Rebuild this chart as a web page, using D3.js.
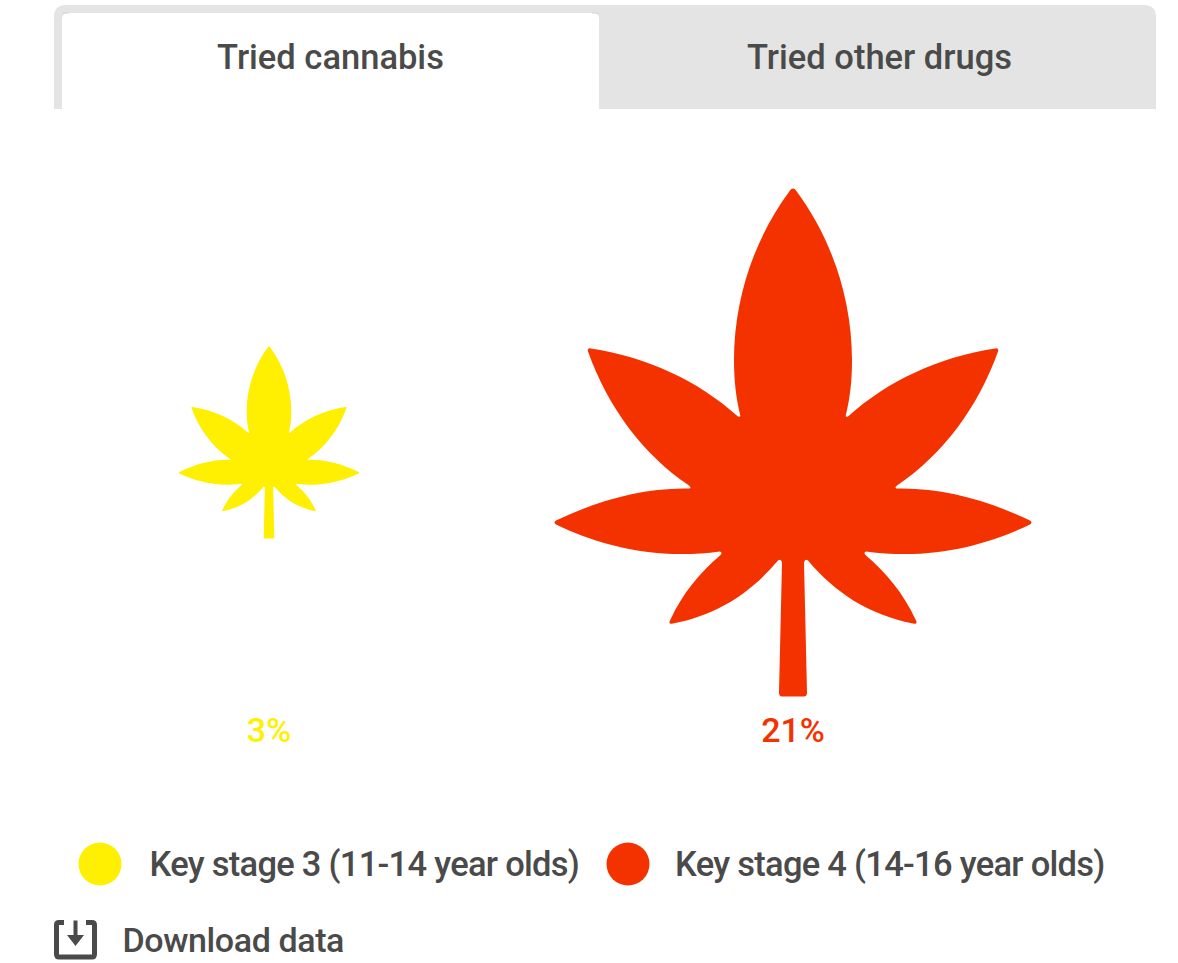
<!DOCTYPE html>
<html>
<head>
<meta charset="utf-8">
<title>Tried cannabis</title>
<script src="https://cdn.jsdelivr.net/npm/d3@7"></script>
<style>
  html, body { margin: 0; padding: 0; background: #fff; }
  svg { display: block; font-family: Roboto, sans-serif; }
</style>
</head>
<body>
<div id="chart"></div>
<script>
const tabLabels = ["Tried cannabis", "Tried other drugs"];
const stages = ["Key stage 3 (11-14 year olds)", "Key stage 4 (14-16 year olds)"];
const triedCannabis = [3, 21];
const stageColors = ["#FFEF00", "#F43200"];
const downloadLabel = "Download data";

const textColor = "#4a4a4a";
const tabGrey = "#e4e4e4";

// Leaf outline centred on its origin, 508 units tall.
const leafHeight = 508;
const leafPath =
  "M0,-254 Q2,-254 3,-252 C38,-205 59,-145 59,-82 C59,-62 57,-45 53,-28 Q52,-25 55,-26 " +
  "C95,-62 145,-85 202,-94 Q206,-95 205,-91 C185,-35 150,12 104,43 Q101,46 104,46 " +
  "C150,45 195,58 237,78 Q240,80 237,82 C195,102 140,118 73,109 Q70,110 73,113 " +
  "C93,130 110,150 123,178 Q125,182 120,181 C75,172 42,150 15,118 Q12,116 11,120 " +
  "L14,250 Q14,254 11,254 L-11,254 Q-14,254 -14,250 L-11,120 Q-12,116 -15,118 " +
  "C-42,150 -75,172 -120,181 Q-125,182 -123,178 C-110,150 -93,130 -73,113 Q-70,110 -73,109 " +
  "C-140,118 -195,102 -237,82 Q-240,80 -237,78 C-195,58 -150,45 -104,46 Q-101,46 -104,43 " +
  "C-150,12 -185,-35 -205,-91 Q-206,-95 -202,-94 C-145,-85 -95,-62 -55,-26 Q-52,-25 -53,-28 " +
  "C-57,-45 -59,-62 -59,-82 C-59,-145 -38,-205 -3,-252 Q-2,-254 0,-254 Z";

const width = 1178, height = 963;
const svg = d3.select("#chart").append("svg")
  .attr("width", width).attr("height", height);

// Tab strip
const tabs = svg.append("g");
tabs.append("path")
  .attr("d", "M54,109 V17 Q54,5 66,5 H1144 Q1156,5 1156,17 V109 Z")
  .attr("fill", tabGrey);
tabs.append("path")
  .attr("d", "M62,109 V19 Q62,13 68,13 H593 Q599,13 599,19 V109 Z")
  .attr("fill", "#fff");
tabs.append("path")
  .attr("d", "M62,13 H69 M592,13 H599")
  .attr("stroke", "#d4d4d4").attr("stroke-width", 1);
const tabX = d3.scaleOrdinal().domain(tabLabels).range([330.5, 879.5]);
tabs.selectAll("text").data(tabLabels).join("text")
  .attr("x", d => tabX(d))
  .attr("y", 69)
  .attr("text-anchor", "middle")
  .attr("font-size", 34.5)
  .attr("font-weight", 500)
  .attr("fill", textColor)
  .text(d => d);

// Leaves: area is proportional to the share, so height follows the square root.
const x = d3.scalePoint().domain(stages).range([269, 793]);
const size = d3.scaleSqrt().domain([0, 21]).range([0, leafHeight]);
const color = d3.scaleOrdinal().domain(stages).range(stageColors);
const rows = stages.map((stage, i) => ({ stage, value: triedCannabis[i] }));

svg.append("g").selectAll("path").data(rows).join("path")
  .attr("d", leafPath)
  .attr("transform", d => `translate(${x(d.stage)},442.5) scale(${size(d.value) / leafHeight})`)
  .attr("fill", d => color(d.stage));

svg.append("g").selectAll("text").data(rows).join("text")
  .attr("x", d => x(d.stage))
  .attr("y", 742)
  .attr("text-anchor", "middle")
  .attr("font-size", 34)
  .attr("font-weight", 500)
  .attr("fill", d => color(d.stage))
  .text(d => d.value + "%");

// Legend
const legendX = d3.scalePoint().domain(stages).range([100, 628]);
const legendTextX = d3.scalePoint().domain(stages).range([149.5, 675]);
const legend = svg.append("g");
legend.selectAll("circle").data(stages).join("circle")
  .attr("cx", d => legendX(d))
  .attr("cy", 864)
  .attr("r", 21.5)
  .attr("fill", d => color(d));
legend.selectAll("text").data(stages).join("text")
  .attr("x", d => legendTextX(d))
  .attr("y", 875.5)
  .attr("font-size", 34.5)
  .attr("letter-spacing", -0.72)
  .attr("font-weight", 500)
  .attr("fill", textColor)
  .text(d => d);

// Download link with tray-and-arrow icon
const dl = svg.append("g");
dl.append("path")
  .attr("d", "M64,922.5 H59 Q56.5,922.5 56.5,925 V954 Q56.5,957 59,957 H92 Q94.5,957 94.5,954 V925 Q94.5,922.5 92,922.5 H86")
  .attr("fill", "none").attr("stroke", textColor).attr("stroke-width", 5);
dl.append("path")
  .attr("d", "M75.5,920.5 V936").attr("stroke", textColor).attr("stroke-width", 4);
dl.append("path")
  .attr("d", "M67,935 H84 L75.5,946 Z").attr("fill", textColor);
dl.append("text")
  .attr("x", 122.5)
  .attr("y", 952)
  .attr("font-size", 34)
  .attr("letter-spacing", -0.4)
  .attr("font-weight", 500)
  .attr("fill", textColor)
  .text(downloadLabel);
</script>
</body>
</html>
